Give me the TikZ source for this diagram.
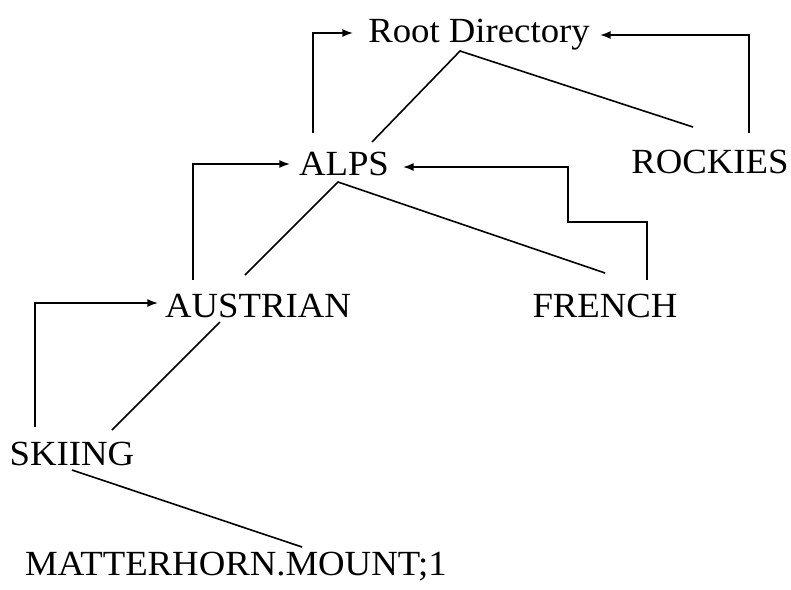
\documentclass[tikz,border=0pt]{standalone}
\usepackage{fontspec}
\setmainfont[FakeStretch=1.04]{Liberation Serif}
\usetikzlibrary{arrows.meta,calc}
\begin{document}
\begin{tikzpicture}[x=0.75pt,y=-0.75pt,
  lbl/.style={inner sep=0pt,anchor=base,font=\fontsize{26.5}{30}\selectfont},
  tree/.style={line width=1.2pt},
  link/.style={line width=1.2pt,-{Latex[length=8pt,width=6pt]}}]
\useasboundingbox (0,0) rectangle (791,589);
\node[lbl] (root) at (479,42) {Root Directory};
\node[lbl] (alps) at (344,175) {ALPS};
\node[lbl] (rockies) at (710,173) {ROCKIES};
\node[lbl] (austrian) at (258,317) {AUSTRIAN};
\node[lbl] (french) at (605,317) {FRENCH};
\node[lbl] (skiing) at (72,465) {SKIING};
\node[lbl] (matter) at (236,575) {MATTERHORN.MOUNT;1};
% tree lines
\draw[tree] ($(alps.base)+(28,-33)$) -- ($(root.base)+(-19,9)$) -- ($(rockies.base)+(-17,-46)$);
\draw[tree] ($(austrian.base)+(-13,-42)$) -- ($(alps.base)+(-6,7)$) -- ($(french.base)+(0,-44)$);
\draw[tree] ($(austrian.base)+(-38,5)$) -- ($(skiing.base)+(40,-35)$);
\draw[tree] ($(skiing.base)+(0,5)$) -- ($(matter.base)+(66,-28)$);
% parent links
\draw[link] ($(alps.base)+(-31,-42)$) |- ($(root.base)+(-126,-9)$);
\draw[link] ($(rockies.base)+(39,-40)$) |- ($(root.base)+(121,-7)$);
\draw[link] ($(austrian.base)+(-65,-37)$) |- ($(alps.base)+(-54,-11)$);
\draw[link] ($(french.base)+(42,-37)$) |- ($(french.base)+(-37,-95)$) |- ($(alps.base)+(59,-8)$);
\draw[link] ($(skiing.base)+(-37,-38)$) |- ($(austrian.base)+(-100,-14)$);
\end{tikzpicture}
\end{document}
